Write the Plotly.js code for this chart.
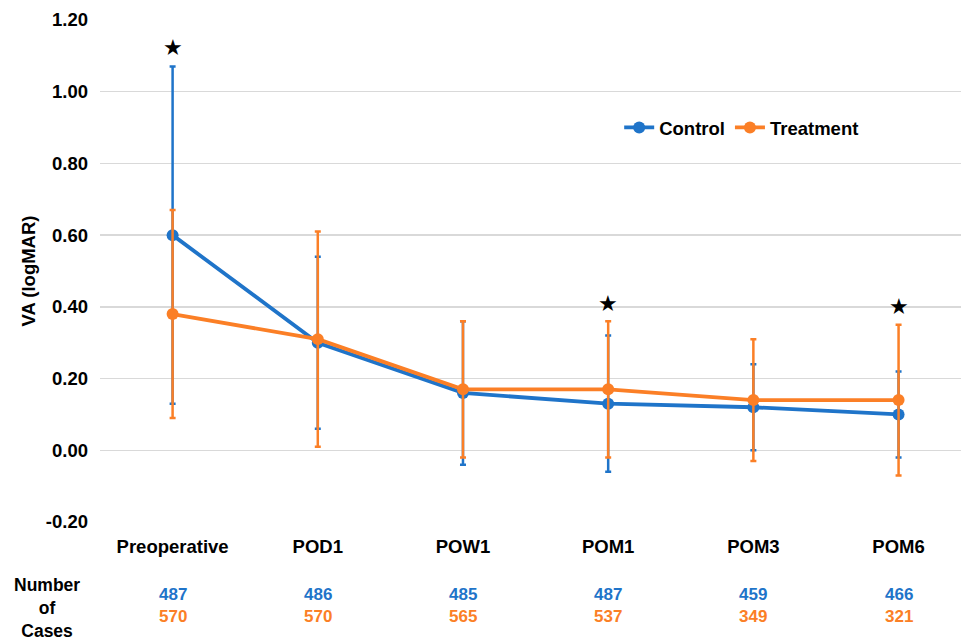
<!DOCTYPE html>
<html>
<head>
<meta charset="utf-8">
<script src="https://cdn.plot.ly/plotly-3.0.1.min.js"></script>
<style>html,body{margin:0;padding:0;background:#fff;}#chart{width:961px;height:639px;}</style>
</head>
<body>
<div id="chart"></div>
<script>
const categories = ['Preoperative', 'POD1', 'POW1', 'POM1', 'POM3', 'POM6'];
const controlMean = [0.60, 0.30, 0.16, 0.13, 0.12, 0.10];
const controlErr  = [0.47, 0.24, 0.20, 0.19, 0.12, 0.12];
const treatMean   = [0.38, 0.31, 0.17, 0.17, 0.14, 0.14];
const treatErr    = [0.29, 0.30, 0.19, 0.19, 0.17, 0.21];
const controlN    = [487, 486, 485, 487, 459, 466];
const treatN      = [570, 570, 565, 537, 349, 321];
const sigCats     = ['Preoperative', 'POM1', 'POM6'];
const sigY        = [1.122, 0.41, 0.40];
const yTickVals   = [-0.2, 0, 0.2, 0.4, 0.6, 0.8, 1.0, 1.2];
const yTickText   = ['-0.20', '0.00', '0.20', '0.40', '0.60', '0.80', '1.00', '1.20'];

const BLUE = '#1f74c9';
const ORANGE = '#fb7f26';
const FONT = 'Liberation Sans, Arial, sans-serif';
const FS = 18.5;

const traces = [
  {
    x: categories, y: controlMean, name: 'Control', type: 'scatter', mode: 'lines+markers',
    line: {color: BLUE, width: 3.8}, marker: {color: BLUE, size: 12},
    error_y: {type: 'data', array: controlErr, visible: true, color: BLUE, thickness: 2.5, width: 3}
  },
  {
    x: categories, y: treatMean, name: 'Treatment', type: 'scatter', mode: 'lines+markers',
    line: {color: ORANGE, width: 3.8}, marker: {color: ORANGE, size: 12},
    error_y: {type: 'data', array: treatErr, visible: true, color: ORANGE, thickness: 2.5, width: 3}
  }
];

const annotations = [];
sigCats.forEach((c, i) => annotations.push({
  x: c, y: sigY[i], xref: 'x', yref: 'y', text: '★', showarrow: false,
  font: {family: 'DejaVu Sans', size: 22, color: '#000'}, xanchor: 'center', yanchor: 'middle'
}));
categories.forEach((c, i) => {
  annotations.push({x: c, y: -0.145, xref: 'x', yref: 'paper', text: '<b>' + controlN[i] + '</b>',
    showarrow: false, font: {family: FONT, size: 17, color: BLUE}, xanchor: 'center', yanchor: 'middle'});
  annotations.push({x: c, y: -0.189, xref: 'x', yref: 'paper', text: '<b>' + treatN[i] + '</b>',
    showarrow: false, font: {family: FONT, size: 17, color: ORANGE}, xanchor: 'center', yanchor: 'middle'});
});
annotations.push({x: -0.061, y: -0.171, xref: 'paper', yref: 'paper',
  text: '<b>Number<br>of<br>Cases</b>', showarrow: false, align: 'center',
  font: {family: FONT, size: 17.5, color: '#000'}, xanchor: 'center', yanchor: 'middle'});

const layout = {
  width: 961, height: 639,
  margin: {l: 100, r: 0, t: 20, b: 117},
  paper_bgcolor: '#fff', plot_bgcolor: '#fff',
  font: {family: FONT, size: FS, color: '#000'},
  showlegend: true,
  legend: {orientation: 'h', x: 0.603, y: 0.785, xanchor: 'left', yanchor: 'middle',
    itemwidth: 30, tracegroupgap: 0,
    font: {family: FONT, size: FS, color: '#000', weight: 'bold'}, bgcolor: 'rgba(0,0,0,0)'},
  xaxis: {type: 'category', range: [-0.5, 5.43], showgrid: false, zeroline: false, showline: false,
    ticks: '', ticklabelstandoff: 11, tickfont: {family: FONT, size: FS, weight: 'bold'}},
  yaxis: {range: [-0.2, 1.2], tickmode: 'array', tickvals: yTickVals, ticktext: yTickText, showgrid: true,
    gridcolor: '#d9d9d9', gridwidth: 1.5, zeroline: true, zerolinecolor: '#d9d9d9', zerolinewidth: 1.5,
    showline: false, ticks: '', ticklabelstandoff: 11, tickfont: {family: FONT, size: FS, weight: 'bold'},
    title: {text: '<b>VA (logMAR)</b>', font: {family: FONT, size: FS}, standoff: 5}},
  annotations: annotations
};

Plotly.newPlot('chart', traces, layout, {displayModeBar: false, staticPlot: true});
</script>
</body>
</html>
